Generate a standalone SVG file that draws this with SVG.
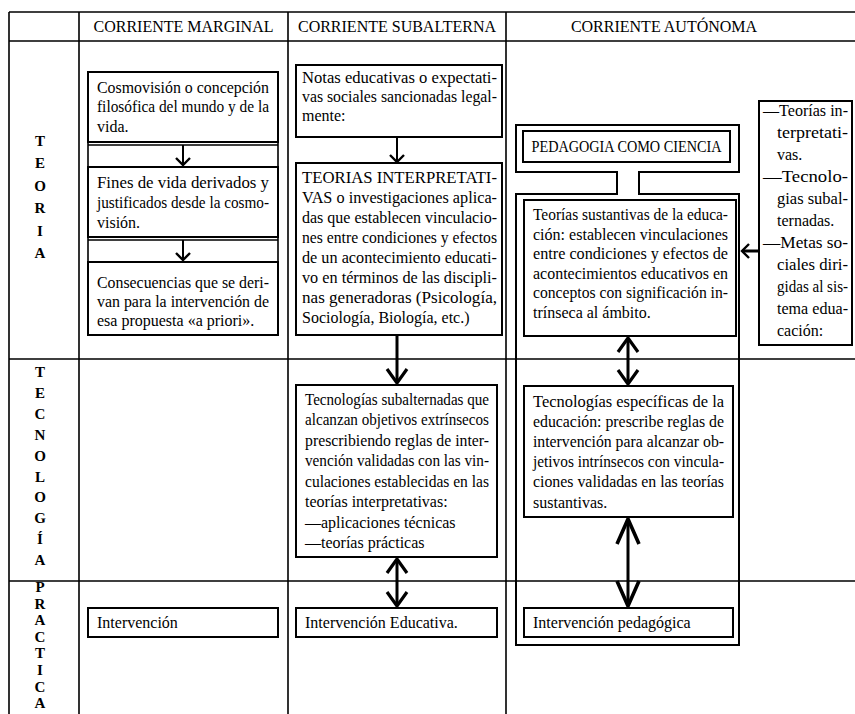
<svg xmlns="http://www.w3.org/2000/svg" width="855" height="714" viewBox="0 0 855 714">
<style>
  .t{font-family:"Liberation Serif","Times New Roman",serif;font-size:16px;fill:#000}
  .h{font-family:"Liberation Serif","Times New Roman",serif;font-size:16px;fill:#000;text-anchor:middle}
  .lbl{font-family:"Liberation Serif","Times New Roman",serif;font-size:15px;font-weight:bold;fill:#000;text-anchor:middle}
  .grid{stroke:#000;stroke-width:1.6;fill:none}
  .box{stroke:#000;stroke-width:2;fill:#fff}
  .frame{stroke:#000;stroke-width:2;fill:none}
  .a1{stroke:#000;stroke-width:2;fill:none;marker-end:url(#hs)}
  .a2{stroke:#000;stroke-width:3;fill:none}
</style>
<defs>
  <marker id="hs" markerUnits="userSpaceOnUse" markerWidth="20" markerHeight="20" refX="0" refY="0" orient="auto" overflow="visible">
    <path d="M-7,-7 L0,0 L-7,7" fill="none" stroke="#000" stroke-width="2.4"/>
  </marker>
  <marker id="hm" markerUnits="userSpaceOnUse" markerWidth="30" markerHeight="30" refX="0" refY="0" orient="auto-start-reverse" overflow="visible">
    <path d="M-14,-10 L0,0 L-14,10" fill="none" stroke="#000" stroke-width="3.2"/>
  </marker>
  <marker id="hl" markerUnits="userSpaceOnUse" markerWidth="40" markerHeight="40" refX="0" refY="0" orient="auto-start-reverse" overflow="visible">
    <path d="M-25,-11 L0,0 L-25,11" fill="none" stroke="#000" stroke-width="3.6"/>
  </marker>
</defs>
<rect width="855" height="714" fill="#fff"/>

<g id="table">
  <path class="grid" d="M9,12 H855 M9,41 H855 M9,359 H855 M9,581 H855 M9,12 V714 M79,12 V714 M288,12 V714 M506,12 V714"/>
  <text class="h" x="183.5" y="32">CORRIENTE MARGINAL</text>
  <text class="h" x="397" y="32">CORRIENTE SUBALTERNA</text>
  <text class="h" x="664" y="32">CORRIENTE AUTÓNOMA</text>
</g>

<g id="row-teoria">
  <text class="lbl" x="40" y="146">T</text>
  <text class="lbl" x="40" y="168">E</text>
  <text class="lbl" x="40" y="191">O</text>
  <text class="lbl" x="40" y="213">R</text>
  <text class="lbl" x="40" y="236">I</text>
  <text class="lbl" x="40" y="258">A</text>
</g>
<g id="row-tecnologia">
  <text class="lbl" x="40" y="377">T</text>
  <text class="lbl" x="40" y="398">E</text>
  <text class="lbl" x="40" y="419">C</text>
  <text class="lbl" x="40" y="440">N</text>
  <text class="lbl" x="40" y="461">O</text>
  <text class="lbl" x="40" y="482">L</text>
  <text class="lbl" x="40" y="502">O</text>
  <text class="lbl" x="40" y="523">G</text>
  <text class="lbl" x="40" y="544">Í</text>
  <text class="lbl" x="40" y="565">A</text>
</g>
<g id="row-practica">
  <text class="lbl" x="40" y="592">P</text>
  <text class="lbl" x="40" y="609">R</text>
  <text class="lbl" x="40" y="625">A</text>
  <text class="lbl" x="40" y="642">C</text>
  <text class="lbl" x="40" y="658">T</text>
  <text class="lbl" x="40" y="675">I</text>
  <text class="lbl" x="40" y="692">C</text>
  <text class="lbl" x="40" y="708">A</text>
</g>

<g id="pedagogia-frame">
  <path class="frame" d="M516,125 H739 V172 H639 V194 H739 V645 H516 V194 H617 V172 H516 Z"/>
</g>

<g id="connectors">
  <path class="grid" d="M88,145 H278 M88,142 V167 M278,142 V167 M88,240 H278 M88,237 V262 M278,237 V262"/>
  <path class="a1" d="M183,145 V165"/>
  <path class="a1" d="M183,240 V260"/>
  <path class="a1" d="M397,137 V162"/>
  <path class="a2" d="M397,335 V383" marker-end="url(#hm)"/>
  <path class="a2" d="M397,559 V606" marker-start="url(#hm)" marker-end="url(#hm)"/>
  <path class="a2" d="M628,338 V384" marker-start="url(#hm)" marker-end="url(#hm)"/>
  <path class="a2" d="M628,519 V606" marker-start="url(#hl)" marker-end="url(#hl)"/>
  <path class="a2" d="M759,251 H742" marker-end="url(#hs)"/>
</g>

<g id="n-cosmovision">
  <rect class="box" x="88" y="72" width="190" height="70"/>
  <text class="t" x="97" y="93" textLength="172" lengthAdjust="spacingAndGlyphs">Cosmovisión o concepción</text>
  <text class="t" x="97" y="112" textLength="172" lengthAdjust="spacingAndGlyphs">filosófica del mundo y de la</text>
  <text class="t" x="97" y="132">vida.</text>
</g>
<g id="n-fines">
  <rect class="box" x="88" y="167" width="190" height="70"/>
  <text class="t" x="97" y="188" textLength="172" lengthAdjust="spacingAndGlyphs">Fines de vida derivados y</text>
  <text class="t" x="97" y="208" textLength="172" lengthAdjust="spacingAndGlyphs">justificados desde la cosmo-</text>
  <text class="t" x="97" y="228">visión.</text>
</g>
<g id="n-consecuencias">
  <rect class="box" x="88" y="262" width="190" height="73"/>
  <text class="t" x="97" y="288" textLength="172" lengthAdjust="spacingAndGlyphs">Consecuencias que se deri-</text>
  <text class="t" x="97" y="307" textLength="172" lengthAdjust="spacingAndGlyphs">van para la intervención de</text>
  <text class="t" x="97" y="326">esa propuesta «a priori».</text>
</g>
<g id="n-intervencion">
  <rect class="box" x="88" y="608" width="190" height="29"/>
  <text class="t" x="97" y="628">Intervención</text>
</g>

<g id="n-notas">
  <rect class="box" x="296" y="65" width="206" height="72"/>
  <text class="t" x="302" y="83" textLength="195" lengthAdjust="spacingAndGlyphs">Notas educativas o expectati-</text>
  <text class="t" x="302" y="102" textLength="195" lengthAdjust="spacingAndGlyphs">vas sociales sancionadas legal-</text>
  <text class="t" x="302" y="121">mente:</text>
</g>
<g id="n-teorias-interpretativas">
  <rect class="box" x="296" y="163" width="206" height="172"/>
  <text class="t" x="302" y="183" textLength="195" lengthAdjust="spacingAndGlyphs">TEORIAS INTERPRETATI-</text>
  <text class="t" x="302" y="203" textLength="195" lengthAdjust="spacingAndGlyphs">VAS o investigaciones aplica-</text>
  <text class="t" x="302" y="223" textLength="195" lengthAdjust="spacingAndGlyphs">das que establecen vinculacio-</text>
  <text class="t" x="302" y="243" textLength="195" lengthAdjust="spacingAndGlyphs">nes entre condiciones y efectos</text>
  <text class="t" x="302" y="263" textLength="195" lengthAdjust="spacingAndGlyphs">de un acontecimiento educati-</text>
  <text class="t" x="302" y="283" textLength="195" lengthAdjust="spacingAndGlyphs">vo en términos de las discipli-</text>
  <text class="t" x="302" y="303" textLength="195" lengthAdjust="spacingAndGlyphs">nas generadoras (Psicología,</text>
  <text class="t" x="302" y="323">Sociología, Biología, etc.)</text>
</g>
<g id="n-tecnologias-subalternadas">
  <rect class="box" x="296" y="385" width="201" height="172"/>
  <text class="t" x="305" y="405" textLength="184" lengthAdjust="spacingAndGlyphs">Tecnologías subalternadas que</text>
  <text class="t" x="305" y="425" textLength="184" lengthAdjust="spacingAndGlyphs">alcanzan objetivos extrínsecos</text>
  <text class="t" x="305" y="446" textLength="184" lengthAdjust="spacingAndGlyphs">prescribiendo reglas de inter-</text>
  <text class="t" x="305" y="466" textLength="184" lengthAdjust="spacingAndGlyphs">vención validadas con las vin-</text>
  <text class="t" x="305" y="487" textLength="184" lengthAdjust="spacingAndGlyphs">culaciones establecidas en las</text>
  <text class="t" x="305" y="507">teorías interpretativas:</text>
  <text class="t" x="305" y="528">—aplicaciones técnicas</text>
  <text class="t" x="305" y="548">—teorías prácticas</text>
</g>
<g id="n-intervencion-educativa">
  <rect class="box" x="296" y="608" width="201" height="29"/>
  <text class="t" x="305" y="628">Intervención Educativa.</text>
</g>

<g id="n-pedagogia">
  <rect class="box" x="523" y="131" width="207" height="31"/>
  <text class="h" x="626.5" y="152" textLength="190" lengthAdjust="spacingAndGlyphs">PEDAGOGIA COMO CIENCIA</text>
</g>
<g id="n-teorias-sustantivas">
  <rect class="box" x="524" y="200" width="212" height="136"/>
  <text class="t" x="533" y="220" textLength="195" lengthAdjust="spacingAndGlyphs">Teorías sustantivas de la educa-</text>
  <text class="t" x="533" y="240" textLength="195" lengthAdjust="spacingAndGlyphs">ción: establecen vinculaciones</text>
  <text class="t" x="533" y="259" textLength="195" lengthAdjust="spacingAndGlyphs">entre condiciones y efectos de</text>
  <text class="t" x="533" y="279" textLength="195" lengthAdjust="spacingAndGlyphs">acontecimientos educativos en</text>
  <text class="t" x="533" y="298" textLength="195" lengthAdjust="spacingAndGlyphs">conceptos con significación in-</text>
  <text class="t" x="533" y="318">trínseca al ámbito.</text>
</g>
<g id="n-tecnologias-especificas">
  <rect class="box" x="524" y="386" width="209" height="131"/>
  <text class="t" x="533" y="407" textLength="191" lengthAdjust="spacingAndGlyphs">Tecnologías específicas de la</text>
  <text class="t" x="533" y="427" textLength="191" lengthAdjust="spacingAndGlyphs">educación: prescribe reglas de</text>
  <text class="t" x="533" y="447" textLength="191" lengthAdjust="spacingAndGlyphs">intervención para alcanzar ob-</text>
  <text class="t" x="533" y="467" textLength="191" lengthAdjust="spacingAndGlyphs">jetivos intrínsecos con vincula-</text>
  <text class="t" x="533" y="487" textLength="191" lengthAdjust="spacingAndGlyphs">ciones validadas en las teorías</text>
  <text class="t" x="533" y="508">sustantivas.</text>
</g>
<g id="n-intervencion-pedagogica">
  <rect class="box" x="524" y="608" width="209" height="29"/>
  <text class="t" x="533" y="628">Intervención pedagógica</text>
</g>

<g id="n-notas-laterales">
  <rect class="box" x="759" y="101" width="93" height="244"/>
  <text class="t" x="763" y="116" textLength="85" lengthAdjust="spacingAndGlyphs">—Teorías in-</text>
  <text class="t" x="777" y="138" textLength="71" lengthAdjust="spacingAndGlyphs">terpretati-</text>
  <text class="t" x="777" y="160">vas.</text>
  <text class="t" x="763" y="182" textLength="85" lengthAdjust="spacingAndGlyphs">—Tecnolo-</text>
  <text class="t" x="777" y="204" textLength="71" lengthAdjust="spacingAndGlyphs">gias subal-</text>
  <text class="t" x="777" y="226">ternadas.</text>
  <text class="t" x="763" y="248" textLength="85" lengthAdjust="spacingAndGlyphs">—Metas so-</text>
  <text class="t" x="777" y="270" textLength="71" lengthAdjust="spacingAndGlyphs">ciales diri-</text>
  <text class="t" x="777" y="292" textLength="71" lengthAdjust="spacingAndGlyphs">gidas al sis-</text>
  <text class="t" x="777" y="314" textLength="71" lengthAdjust="spacingAndGlyphs">tema edua-</text>
  <text class="t" x="777" y="336">cación:</text>
</g>
</svg>
